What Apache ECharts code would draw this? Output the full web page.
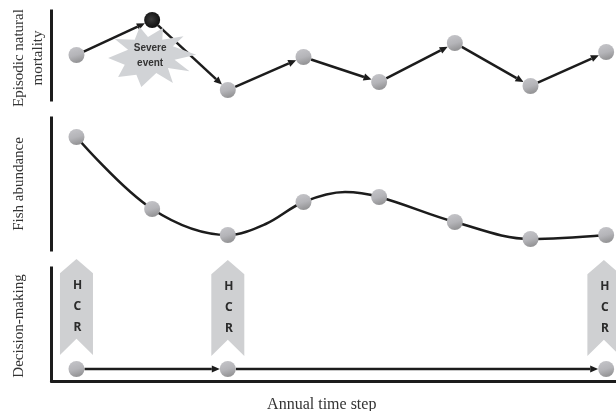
<!DOCTYPE html>
<html><head><meta charset="utf-8">
<style>html,body{margin:0;padding:0;background:#fff}#c{width:616px;height:411px}</style>
<script src="https://cdn.jsdelivr.net/npm/echarts@6/dist/echarts.min.js"></script>
</head><body><div id="c"></div>
<script>
const steps = [0,1,2,3,4,5,6,7];
const mortality = [45,80,10,43,18,57,14,48];
const abundance = [113,41,15,48,53,28,11,15];
const curveSteps = [0,1,2,2.5,3,3.55,4,5,6,7];
const curveValues = [113,41,15,26,48,58,53,28,11,15];
const decisionSteps = [0,2,7];
const decisionLevel = [12,12,12];
const hcrSteps = [0,2,6.97];
const hcrLevels = [74,73,73];
const hcrLabel = 'H\nC\nR';
const severePoint = [1,80];
const starPoint = [1,43];
const starLabel = 'Severe\nevent';
const panelTitles = ['Episodic natural\nmortality','Fish abundance','Decision-making'];
const xTitle = 'Annual time step';

const ink = '#1c1c1c';
const ball = {type:'linear',x:0,y:0,x2:0.3,y2:1,colorStops:[{offset:0,color:'#c6c6ca'},{offset:0.6,color:'#b4b4b8'},{offset:1,color:'#969698'}]};
const darkBall = {type:'radial',x:0.45,y:0.45,r:0.6,colorStops:[{offset:0,color:'#3c3c3c'},{offset:1,color:'#0c0c0c'}]};
const chevron = 'path://M0 14 L16.5 0 L33 14 L33 95 L16.5 79 L0 95 Z';
const star = 'path://M325 175 L385 150 L345 118 L405 120 L420 82 L445 112 L490 85 L488 120 L552 110 L520 140 L590 165 L525 180 L570 215 L505 205 L520 250 L470 220 L425 262 L410 225 L355 232 L375 195 Z';

const arrowR = 8;
function arrow(params, api){
  const a = api.coord([api.value(0),api.value(1)]);
  const b = api.coord([api.value(2),api.value(3)]);
  const dx=b[0]-a[0], dy=b[1]-a[1], L=Math.hypot(dx,dy), ux=dx/L, uy=dy/L;
  const s=[a[0]+ux*arrowR,a[1]+uy*arrowR], t=[b[0]-ux*arrowR,b[1]-uy*arrowR];
  const h=8, w=3.6, base=[t[0]-ux*h,t[1]-uy*h];
  return {type:'group',children:[
    {type:'line',shape:{x1:s[0],y1:s[1],x2:base[0],y2:base[1]},style:{stroke:ink,lineWidth:2.5}},
    {type:'polygon',shape:{points:[t,[base[0]-uy*w,base[1]+ux*w],[base[0]+uy*w,base[1]-ux*w]]},style:{fill:ink}}
  ]};
}
const pairs = (xs,ys)=>xs.slice(1).map((x,i)=>[xs[i],ys[i],x,ys[i+1]]);
const zip = (xs,ys)=>xs.map((x,i)=>[x,ys[i]]);

const grids = [
  {left:51.5,right:0,top:11,height:89,outerBoundsMode:'none'},
  {left:51.5,right:0,top:118,height:132,outerBoundsMode:'none'},
  {left:51.5,right:0,top:268,height:113,outerBoundsMode:'none'}
];
const xAxes = grids.map((g,i)=>({
  gridIndex:i,type:'value',min:-0.33,max:7.13,
  axisLine:{show:i===2,onZero:false,lineStyle:{color:ink,width:3}},
  axisTick:{show:false},axisLabel:{show:false},splitLine:{show:false},
  name:i===2?xTitle:'',nameLocation:'middle',nameGap:15.5,
  nameTextStyle:{fontFamily:'Liberation Serif',fontSize:16,color:'#333',padding:[0,24,0,0]}
}));
const yMax=[89,132,113], gaps=[3.5,22.5,22.5], shift=[5,0,3];
const yAxes = grids.map((g,i)=>({
  gridIndex:i,type:'value',min:0,max:yMax[i],
  axisLine:{show:true,onZero:false,lineStyle:{color:ink,width:3,cap:'square'}},
  axisTick:{show:false},axisLabel:{show:false},splitLine:{show:false},
  name:panelTitles[i],nameLocation:'middle',nameRotate:90,nameGap:gaps[i],
  nameTextStyle:{fontFamily:'Liberation Serif',fontSize:15,color:'#333',lineHeight:19,padding:[0,shift[i],0,0]}
}));
const markerStyle = {color:ball};
const series = [
  {type:'custom',xAxisIndex:0,yAxisIndex:0,z:2,renderItem:arrow,clip:false,data:pairs(steps,mortality),encode:{x:[0,2],y:[1,3]}},
  {type:'scatter',xAxisIndex:0,yAxisIndex:0,z:3,symbol:star,symbolSize:[88,60],clip:false,silent:true,
   itemStyle:{color:'#d1d3d6',opacity:1},
   label:{show:true,position:'inside',formatter:starLabel,offset:[-2,-1],fontFamily:'Liberation Sans',fontWeight:'bold',fontSize:10,lineHeight:15,color:'#333'},
   data:[starPoint]},
  {type:'scatter',xAxisIndex:0,yAxisIndex:0,z:4,symbolSize:16,clip:false,itemStyle:{...markerStyle,opacity:1},
   data:zip(steps,mortality).map((p,i)=>p[0]===severePoint[0]&&p[1]===severePoint[1]?{value:p,itemStyle:{color:darkBall}}:p)},
  {type:'line',xAxisIndex:1,yAxisIndex:1,z:2,smooth:0.35,showSymbol:false,symbol:'none',clip:false,
   lineStyle:{color:ink,width:2.6},data:zip(curveSteps,curveValues)},
  {type:'scatter',xAxisIndex:1,yAxisIndex:1,z:4,symbolSize:16,clip:false,itemStyle:{...markerStyle,opacity:1},data:zip(steps,abundance)},
  {type:'scatter',xAxisIndex:2,yAxisIndex:2,z:1,symbol:chevron,symbolSize:[33,96],clip:false,
   itemStyle:{color:'#cfd0d2',opacity:1},
   label:{show:true,position:'inside',formatter:hcrLabel,offset:[1,0],fontFamily:'Noto Sans',fontWeight:'bold',fontSize:12,lineHeight:21,color:'#2b2b2b'},
   data:zip(hcrSteps,hcrLevels)},
  {type:'custom',xAxisIndex:2,yAxisIndex:2,z:2,renderItem:arrow,clip:false,data:pairs(decisionSteps,decisionLevel),encode:{x:[0,2],y:[1,3]}},
  {type:'scatter',xAxisIndex:2,yAxisIndex:2,z:4,symbolSize:16,clip:false,itemStyle:{...markerStyle,opacity:1},data:zip(decisionSteps,decisionLevel)}
];
const chart = echarts.init(document.getElementById('c'),null,{renderer:'canvas'});
chart.setOption({animation:false,backgroundColor:'#fff',grid:grids,xAxis:xAxes,yAxis:yAxes,tooltip:{show:false},series});
</script></body></html>
